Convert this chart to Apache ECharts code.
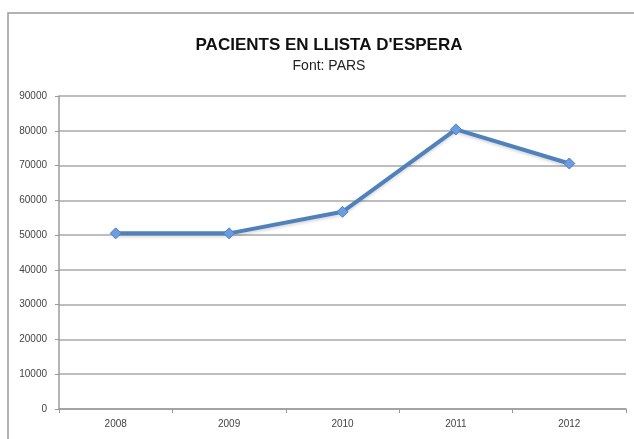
<!DOCTYPE html>
<html>
<head>
<meta charset="utf-8">
<script src="https://cdn.jsdelivr.net/npm/echarts@6/dist/echarts.min.js"></script>
<style>
  html, body { margin: 0; padding: 0; background: #fff; }
  #chart { width: 634px; height: 439px; }
</style>
</head>
<body>
<div id="chart"></div>
<script>
const years = ['2008', '2009', '2010', '2011', '2012'];
const pacients = [50500, 50500, 56700, 80400, 70600];
const yTicks = { min: 0, max: 90000, step: 10000 };

const chart = echarts.init(document.getElementById('chart'));

chart.setOption({
  animation: false,
  backgroundColor: '#fff',
  graphic: [{
    type: 'rect',
    shape: { x: 8, y: 13, width: 640, height: 440 },
    style: { fill: 'none', stroke: '#9a9a9a', lineWidth: 1.5 },
    silent: true
  }],
  title: {
    text: "PACIENTS EN LLISTA D'ESPERA",
    subtext: 'Font: PARS',
    left: 324,
    textAlign: 'center',
    top: 32,
    itemGap: 5,
    textStyle: {
      fontFamily: "'Liberation Sans', sans-serif",
      fontWeight: 'bold',
      fontSize: 17,
      color: '#111'
    },
    subtextStyle: {
      fontFamily: "'Liberation Sans', sans-serif",
      fontSize: 14,
      color: '#222'
    }
  },
  grid: { left: 59, right: 8, top: 96, bottom: 30, containLabel: false },
  xAxis: {
    type: 'category',
    data: years,
    boundaryGap: true,
    axisLine: { lineStyle: { color: '#9a9a9a', width: 1.5 } },
    axisTick: { show: true, length: 4, lineStyle: { color: '#9a9a9a' } },
    axisLabel: {
      margin: 10,
      fontFamily: "'Liberation Sans', sans-serif",
      fontSize: 10,
      color: '#444'
    }
  },
  yAxis: {
    type: 'value',
    min: yTicks.min,
    max: yTicks.max,
    interval: yTicks.step,
    axisLine: { show: true, lineStyle: { color: '#9a9a9a', width: 1.5 } },
    axisTick: { show: true, length: 4, lineStyle: { color: '#9a9a9a' } },
    splitLine: { lineStyle: { color: '#a8a8a8', width: 1.5 } },
    axisLabel: {
      margin: 12,
      formatter: function (v) { return String(v); },
      fontFamily: "'Liberation Sans', sans-serif",
      fontSize: 10,
      color: '#444'
    }
  },
  series: [{
    name: 'Pacients',
    type: 'line',
    data: pacients,
    symbol: 'diamond',
    symbolSize: 11,
    lineStyle: {
      color: '#4f81bd',
      width: 4,
      shadowColor: 'rgba(0,0,0,0.15)',
      shadowBlur: 3,
      shadowOffsetY: 2
    },
    itemStyle: { color: '#6b9be0', borderColor: '#4f81bd', borderWidth: 1 }
  }]
});
</script>
</body>
</html>
